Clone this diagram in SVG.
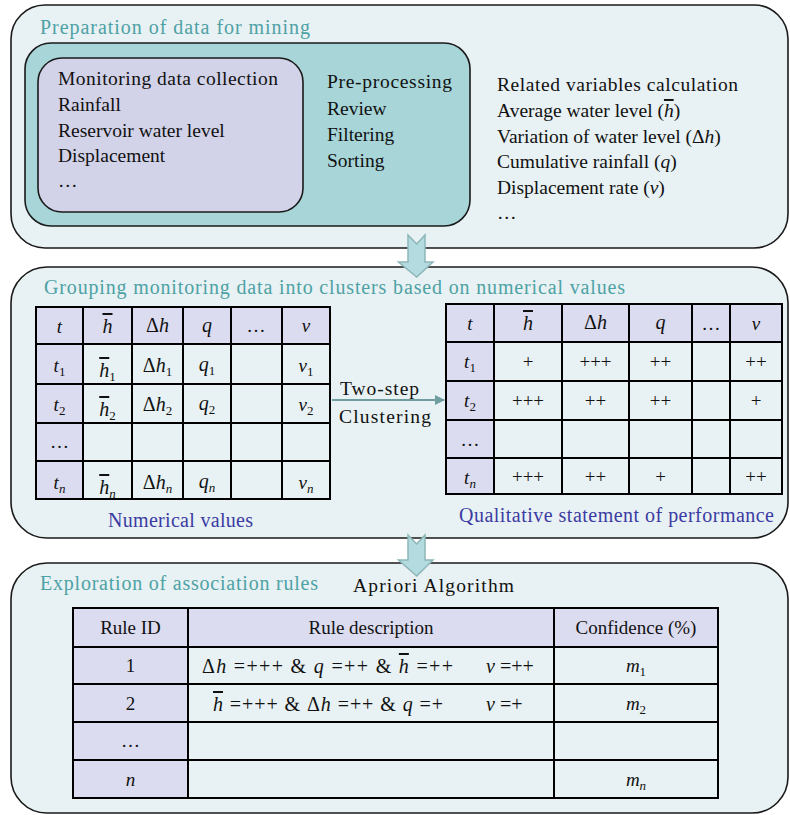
<svg xmlns="http://www.w3.org/2000/svg" width="790" height="815" viewBox="0 0 790 815">
<defs>
<style>
.box{fill:#e8f1f3;stroke:#1a1a1a;stroke-width:1.6}
.teal{fill:#a7d5d8;stroke:#1a1a1a;stroke-width:1.6}
.lav{fill:#d2d2e8;stroke:#1a1a1a;stroke-width:1.6}
.hdr{fill:#dcdcf0}
.grid{fill:none;stroke:#000;stroke-width:2}
.ttl{font-family:"Liberation Serif",serif;font-size:20px;fill:#4da2a5}
.t{font-family:"Liberation Serif",serif;font-size:19.5px;fill:#111}
.tb{font-family:"Liberation Serif",serif;font-size:19px;fill:#111}
.m{font-size:20px}
.c{text-anchor:middle}
.i{font-style:italic}
.blue{font-family:"Liberation Serif",serif;font-size:20px;fill:#3b3ba3}
.barrow{fill:#b4dce0;stroke:#8db6b9;stroke-width:1.5}
.sub{font-size:13px}
</style>
<marker id="ah" viewBox="0 0 10 10" refX="9" refY="5" markerWidth="10" markerHeight="10" markerUnits="userSpaceOnUse" orient="auto">
<path d="M0,0 L10,5 L0,10 z" fill="#6f9ea0"/>
</marker>
</defs>

<!-- Section 1 -->
<g id="sec1">
<rect class="box" x="11" y="5" width="777" height="243" rx="34"/>
<text class="ttl" x="40" y="34" textLength="270">Preparation of data for mining</text>
</g>
<g id="preprocessing">
<rect class="teal" x="25" y="43" width="445" height="183" rx="26"/>
<text class="t" x="327" y="88" textLength="125">Pre-processing</text>
<text class="t" x="327" y="115">Review</text>
<text class="t" x="327" y="141">Filtering</text>
<text class="t" x="327" y="167">Sorting</text>
</g>
<g id="monitoring">
<rect class="lav" x="38" y="58" width="265" height="154" rx="24"/>
<text class="t" x="58" y="85" textLength="220">Monitoring data collection</text>
<text class="t" x="58" y="111">Rainfall</text>
<text class="t" x="58" y="137">Reservoir water level</text>
<text class="t" x="58" y="162">Displacement</text>
<text class="t" x="58" y="187">…</text>
</g>
<g id="variables">
<text class="t" x="497" y="91" textLength="241">Related variables calculation</text>
<text class="t" x="497" y="117">Average water level (<tspan class="i" text-decoration="overline">h</tspan>)</text>
<text class="t" x="497" y="143">Variation of water level (Δ<tspan class="i">h</tspan>)</text>
<text class="t" x="497" y="168">Cumulative rainfall (<tspan class="i">q</tspan>)</text>
<text class="t" x="497" y="194">Displacement rate (<tspan class="i">v</tspan>)</text>
<text class="t" x="497" y="219">…</text>
</g>

<!-- Section 2 -->
<g id="sec2">
<rect class="box" x="11" y="267" width="777" height="271" rx="36"/>
<text class="ttl" x="44" y="294" textLength="581">Grouping monitoring data into clusters based on numerical values</text>
<text class="blue" x="108" y="527" textLength="145">Numerical values</text>
<text class="blue" x="459" y="522" textLength="315">Qualitative statement of performance</text>
</g>
<g id="numTable">
<rect class="hdr" x="36" y="307" width="294" height="37"/>
<rect class="hdr" x="36" y="344" width="47" height="155"/>
<path class="grid" d="M36,307H330V499H36Z M83,307V499 M132,307V499 M183,307V499 M231,307V499 M282,307V499 M36,344H330 M36,384H330 M36,423H330 M36,461H330"/>
<g class="tb c">
<text class="i" x="59.5" y="333">t</text>
<text class="i m" x="107.5" y="333" text-decoration="overline">h</text>
<text class="m" x="157.5" y="332">Δ<tspan class="i">h</tspan></text>
<text class="i m" x="207" y="332">q</text>
<text x="256" y="332">…</text>
<text class="i" x="306" y="332">v</text>

<text x="59.5" y="372"><tspan class="i">t</tspan><tspan class="sub" dy="4">1</tspan></text>
<text class="m" x="107.5" y="377"><tspan class="i" text-decoration="overline">h</tspan><tspan class="sub" dy="4">1</tspan></text>
<text class="m" x="157.5" y="372">Δ<tspan class="i">h</tspan><tspan class="sub" dy="4">1</tspan></text>
<text class="m" x="207" y="371"><tspan class="i">q</tspan><tspan class="sub" dy="4">1</tspan></text>
<text x="306" y="372"><tspan class="i">v</tspan><tspan class="sub" dy="4">1</tspan></text>

<text x="59.5" y="411"><tspan class="i">t</tspan><tspan class="sub" dy="4">2</tspan></text>
<text class="m" x="107.5" y="416"><tspan class="i" text-decoration="overline">h</tspan><tspan class="sub" dy="4">2</tspan></text>
<text class="m" x="157.5" y="411">Δ<tspan class="i">h</tspan><tspan class="sub" dy="4">2</tspan></text>
<text class="m" x="207" y="410"><tspan class="i">q</tspan><tspan class="sub" dy="4">2</tspan></text>
<text x="306" y="411"><tspan class="i">v</tspan><tspan class="sub" dy="4">2</tspan></text>

<text x="59.5" y="448">…</text>

<text x="59.5" y="489"><tspan class="i">t</tspan><tspan class="sub i" dy="4">n</tspan></text>
<text class="m" x="107.5" y="494"><tspan class="i" text-decoration="overline">h</tspan><tspan class="sub i" dy="4">n</tspan></text>
<text class="m" x="157.5" y="489">Δ<tspan class="i">h</tspan><tspan class="sub i" dy="4">n</tspan></text>
<text class="m" x="207" y="488"><tspan class="i">q</tspan><tspan class="sub i" dy="4">n</tspan></text>
<text x="306" y="489"><tspan class="i">v</tspan><tspan class="sub i" dy="4">n</tspan></text>
</g>
</g>
<g id="qualTable">
<rect class="hdr" x="446" y="304" width="336" height="38"/>
<rect class="hdr" x="446" y="342" width="48" height="152"/>
<path class="grid" d="M446,304H782V494H446Z M494,304V494 M562,304V494 M629,304V494 M692,304V494 M730,304V494 M446,342H782 M446,381H782 M446,420H782 M446,458H782"/>
<g class="tb c">
<text class="i" x="470" y="330">t</text>
<text class="i m" x="528" y="330" text-decoration="overline">h</text>
<text class="m" x="595.5" y="329">Δ<tspan class="i">h</tspan></text>
<text class="i m" x="660.5" y="329">q</text>
<text x="711" y="330">…</text>
<text class="i" x="756" y="330">v</text>

<text x="470" y="368"><tspan class="i">t</tspan><tspan class="sub" dy="4">1</tspan></text>
<text x="528" y="368">+</text>
<text x="595.5" y="368">+++</text>
<text x="660.5" y="368">++</text>
<text x="756" y="368">++</text>

<text x="470" y="407"><tspan class="i">t</tspan><tspan class="sub" dy="4">2</tspan></text>
<text x="528" y="407">+++</text>
<text x="595.5" y="407">++</text>
<text x="660.5" y="407">++</text>
<text x="756" y="407">+</text>

<text x="470" y="446">…</text>

<text x="470" y="484"><tspan class="i">t</tspan><tspan class="sub i" dy="4">n</tspan></text>
<text x="528" y="483">+++</text>
<text x="595.5" y="483">++</text>
<text x="660.5" y="483">+</text>
<text x="756" y="483">++</text>
</g>
</g>

<!-- Section 3 -->
<g id="sec3">
<rect class="box" x="11" y="563" width="777" height="250" rx="36"/>
<text class="ttl" x="40" y="590" textLength="278">Exploration of association rules</text>
<text class="t" x="353" y="592" textLength="161">Apriori Algorithm</text>
</g>
<g id="rulesTable">
<rect class="hdr" x="73" y="608" width="645" height="39"/>
<rect class="hdr" x="73" y="647" width="115" height="151"/>
<path class="grid" d="M73,608H718V798H73Z M188,608V798 M554,608V798 M73,647H718 M73,684H718 M73,722H718 M73,760H718"/>
<g class="tb">
<text class="c" x="130.5" y="634">Rule ID</text>
<text class="c" x="371" y="634">Rule description</text>
<text class="c" x="636" y="634">Confidence (%)</text>
<text class="c" x="130.5" y="672">1</text>
<text class="c" x="130.5" y="710">2</text>
<text class="c" x="130.5" y="747">…</text>
<text class="c i" x="130.5" y="786">n</text>
<text class="m" x="202" y="673" textLength="251">Δ<tspan class="i">h</tspan> =+++ &amp; <tspan class="i">q</tspan> =++ &amp; <tspan class="i" text-decoration="overline">h</tspan> =++</text>
<text class="m" x="486" y="673"><tspan class="i">v</tspan> =++</text>
<text class="m" x="213" y="711" textLength="230"><tspan class="i" text-decoration="overline">h</tspan> =+++ &amp; Δ<tspan class="i">h</tspan> =++ &amp; <tspan class="i">q</tspan> =+</text>
<text class="m" x="486" y="711"><tspan class="i">v</tspan> =+</text>
<text class="c" x="636" y="672"><tspan class="i">m</tspan><tspan class="sub" dy="4">1</tspan></text>
<text class="c" x="636" y="710"><tspan class="i">m</tspan><tspan class="sub" dy="4">2</tspan></text>
<text class="c" x="636" y="786"><tspan class="i">m</tspan><tspan class="sub i" dy="4">n</tspan></text>
</g>
</g>

<!-- Connectors -->
<g id="connectors">
<polygon class="barrow" points="408,235 416.7,244 425,235 425,262 433,262 416.7,277 398.5,262 408,262"/>
<polygon class="barrow" points="408,535 416.7,544 425,535 425,560 433,560 416.7,576 398.5,560 408,560"/>
<line x1="332" y1="400" x2="444" y2="400" stroke="#6f9ea0" stroke-width="2" marker-end="url(#ah)"/>
<text class="t" x="340" y="395" textLength="79">Two-step</text>
<text class="t" x="339" y="423" textLength="92">Clustering</text>
</g>
</svg>
